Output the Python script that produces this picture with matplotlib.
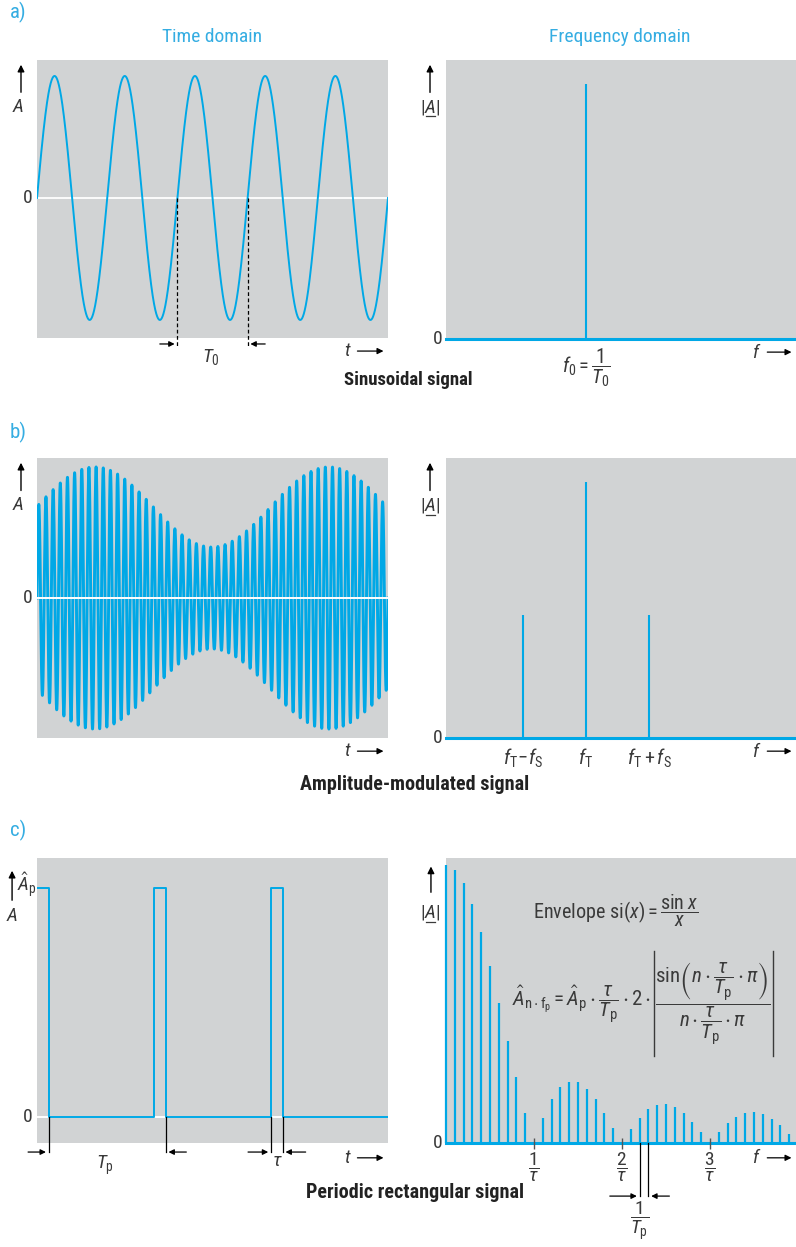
import numpy as np
import matplotlib
matplotlib.use('Agg')
import matplotlib.pyplot as plt
from matplotlib import font_manager
from matplotlib.lines import Line2D

avail = {f.name for f in font_manager.fontManager.ttflist}
FONT = 'DejaVu Sans'
for cand in ['Liberation Sans Narrow', 'Roboto Condensed', 'Roboto', 'Liberation Sans']:
    if cand in avail:
        FONT = cand
        break
plt.rcParams['font.family'] = [FONT, 'DejaVu Sans']
plt.rcParams['mathtext.fontset'] = 'custom'
plt.rcParams['mathtext.rm'] = FONT
plt.rcParams['mathtext.it'] = FONT + ':italic'
plt.rcParams['mathtext.bf'] = FONT + ':bold'
plt.rcParams['mathtext.sf'] = FONT
plt.rcParams['mathtext.fallback'] = 'stixsans'

# ---------------- data ----------------
# a) sinusoidal signal
sine_periods = 5
sine_amp = 1.0
T0_marks = [2, 3]
a_spec_freq = [1.0]
a_spec_amp = [1.0]

# b) amplitude-modulated signal
am_carrier_cycles = 49
am_mod_cycles = 1.5
am_mod_depth = 0.44
am_mod_peak = 0.165
b_spec_freq = [0.55, 1.0, 1.45]
b_spec_amp = [0.48, 1.0, 0.48]
b_spec_labels = [r'$f_\mathrm{T}\!-\!f_\mathrm{S}$', r'$f_\mathrm{T}$', r'$f_\mathrm{T}+f_\mathrm{S}$']

# c) periodic rectangular signal
Tp = 1.0
tau = 0.1
Ap = 1.0
rect_periods = 3
rect_harm_n = list(range(40))
rect_harm_amp = [1.000, 0.982, 0.934, 0.858, 0.759, 0.636, 0.505, 0.368, 0.236, 0.109,
                 0.000, 0.089, 0.158, 0.202, 0.221, 0.218, 0.194, 0.158, 0.109, 0.055,
                 0.000, 0.049, 0.091, 0.124, 0.138, 0.142, 0.129, 0.109, 0.077, 0.039,
                 0.000, 0.040, 0.071, 0.094, 0.109, 0.113, 0.106, 0.088, 0.064, 0.032]
c_tick_pos = [1, 2, 3]
c_tick_labels = [r'$\dfrac{1}{\tau}$', r'$\dfrac{2}{\tau}$', r'$\dfrac{3}{\tau}$']

# ---------------- style ----------------
GRAY = '#d1d3d4'
CYAN = '#00a8e6'
CTXT = '#35ade2'
DARK = '#3a3a3a'

W, H = 796, 1247
fig = plt.figure(figsize=(W / 100, H / 100), dpi=100)


def add_ax(x0, y0, x1, y1):
    ax = fig.add_axes([x0 / W, 1 - y1 / H, (x1 - x0) / W, (y1 - y0) / H])
    ax.set_facecolor(GRAY)
    for s in ax.spines.values():
        s.set_visible(False)
    ax.set_xticks([])
    ax.set_yticks([])
    return ax


def ft(x, y, s, **kw):
    fig.text(x / W, 1 - y / H, s, **kw)


def yaxis_arrow(ax, xf, y0f, y1f):
    ax.annotate('', xy=(xf, y1f), xytext=(xf, y0f), xycoords='axes fraction',
                arrowprops=dict(arrowstyle='-|>', color='black', lw=1.0, mutation_scale=10),
                annotation_clip=False)


def xaxis_label(ax, letter, xf_text, xf0, xf1, yf):
    ax.text(xf_text, yf, letter, transform=ax.transAxes, ha='center', va='center',
            fontsize=14, color=DARK)
    ax.annotate('', xy=(xf1, yf), xytext=(xf0, yf), xycoords='axes fraction',
                arrowprops=dict(arrowstyle='-|>', color='black', lw=0.9, mutation_scale=9),
                annotation_clip=False)


def absA_label(ax, xf, yf):
    ax.text(xf, yf, r'$|A|$', transform=ax.transAxes, ha='center', va='center',
            fontsize=14, color=DARK)
    ax.add_line(Line2D([xf - 0.011, xf + 0.013], [yf - 0.033, yf - 0.033], transform=ax.transAxes,
                       color=DARK, lw=0.9, clip_on=False))


def vbar(ax, xf, y0f, y1f):
    ax.add_line(Line2D([xf, xf], [y0f, y1f], transform=ax.transAxes, color=DARK, lw=1.0, clip_on=False))


arrow_kw = dict(arrowstyle='-|>', color='black', lw=0.9, mutation_scale=8)

# ---------------- headers ----------------
ft(10, 12, 'a)', fontsize=15, color=CTXT, ha='left', va='center')
ft(212, 37, 'Time domain', fontsize=14, color=CTXT, ha='center', va='center')
ft(620, 37, 'Frequency domain', fontsize=14, color=CTXT, ha='center', va='center')
ft(10, 432, 'b)', fontsize=15, color=CTXT, ha='left', va='center')
ft(10, 830, 'c)', fontsize=15, color=CTXT, ha='left', va='center')
ft(408, 380, 'Sinusoidal signal', fontsize=13.5, weight='bold', color='#222222', ha='center', va='center')
ft(415, 785, 'Amplitude-modulated signal', fontsize=14.5, weight='bold', color='#222222', ha='center', va='center')
ft(415, 1192, 'Periodic rectangular signal', fontsize=14.5, weight='bold', color='#222222', ha='center', va='center')

# ================= a) left =================
ax = add_ax(37, 60, 388, 338)
t = np.linspace(0, sine_periods, 3000)
ax.axhline(0, color='white', lw=1.3, zorder=1)
ax.plot(t, sine_amp * np.sin(2 * np.pi * t), color=CYAN, lw=1.4, zorder=3)
ax.set_xlim(0, sine_periods)
ax.set_ylim(-1.148, 1.131)
for tm in T0_marks:
    ax.plot([tm, tm], [0, -1.21], color='black', lw=0.9, ls=(0, (3, 2)), clip_on=False, zorder=4)
ax.annotate('', xy=(T0_marks[0], -1.197), xytext=(T0_marks[0] - 0.29, -1.197),
            arrowprops=arrow_kw, annotation_clip=False)
ax.annotate('', xy=(T0_marks[1], -1.197), xytext=(T0_marks[1] + 0.29, -1.197),
            arrowprops=arrow_kw, annotation_clip=False)
ax.text(np.mean(T0_marks) - 0.02, -1.30, r'$T_0$', ha='center', va='center', fontsize=14, color=DARK)
yaxis_arrow(ax, -0.0456, 0.874, 0.993)
ax.text(-0.055, 0.831, r'$A$', transform=ax.transAxes, ha='center', va='center', fontsize=14, color=DARK)
ax.text(-0.014, 0.0, '0', transform=ax.get_yaxis_transform(),
        ha='right', va='center', fontsize=14, color=DARK)
xaxis_label(ax, r'$t$', 0.885, 0.905, 0.995, -0.047)

# ================= a) right =================
ax = add_ax(446, 60, 796, 339)
ax.set_xlim(0, 2.5)
ax.set_ylim(0, 279 / 255)
ax.vlines(a_spec_freq, 0, a_spec_amp, color=CYAN, lw=1.5)
ax.axhline(0, color=CYAN, lw=2.2, clip_on=False)
ax.text(a_spec_freq[0], -0.03, r'$f_0 = \dfrac{1}{T_0}$', ha='center', va='top', fontsize=14.5, color=DARK)
yaxis_arrow(ax, -0.0457, 0.874, 0.993)
absA_label(ax, -0.045, 0.831)
ax.text(-0.011, 0.0, '0', transform=ax.get_yaxis_transform(), ha='right', va='center', fontsize=14, color=DARK)
xaxis_label(ax, r'$f$', 0.888, 0.91, 0.995, -0.047)

# ================= b) left =================
ax = add_ax(37, 458, 388, 738)
t = np.linspace(0, 1, 8000)
env = 1 + am_mod_depth * np.cos(2 * np.pi * am_mod_cycles * (t - am_mod_peak))
ax.plot(t, env * np.sin(2 * np.pi * am_carrier_cycles * t), color=CYAN, lw=2.1, zorder=2)
ax.axhline(0, color='white', lw=1.4, zorder=3)
ax.set_xlim(0, 1)
ax.set_ylim(-1.538, 1.538)
yaxis_arrow(ax, -0.0456, 0.874, 0.993)
ax.text(-0.055, 0.831, r'$A$', transform=ax.transAxes, ha='center', va='center', fontsize=14, color=DARK)
ax.text(-0.014, 0.0, '0', transform=ax.get_yaxis_transform(), ha='right', va='center', fontsize=14, color=DARK)
xaxis_label(ax, r'$t$', 0.885, 0.905, 0.995, -0.047)

# ================= b) right =================
ax = add_ax(446, 458, 796, 738)
ax.set_xlim(0, 2.5)
ax.set_ylim(0, 279 / 255)
ax.vlines(b_spec_freq, 0, b_spec_amp, color=CYAN, lw=1.5)
ax.axhline(0, color=CYAN, lw=2.2, clip_on=False)
for fx_, lab in zip(b_spec_freq, b_spec_labels):
    ax.text(fx_, -0.035, lab, ha='center', va='top', fontsize=14.5, color=DARK)
yaxis_arrow(ax, -0.0457, 0.874, 0.993)
absA_label(ax, -0.045, 0.831)
ax.text(-0.011, 0.0, '0', transform=ax.get_yaxis_transform(), ha='right', va='center', fontsize=14, color=DARK)
xaxis_label(ax, r'$f$', 0.888, 0.91, 0.995, -0.047)

# ================= c) left =================
ax = add_ax(37, 858, 388, 1143)
xs, ys = [0.0], [Ap]
for k in range(rect_periods):
    start = k * Tp
    if k > 0:
        xs += [start, start]
        ys += [0.0, Ap]
    xs += [start + tau, start + tau]
    ys += [Ap, 0.0]
xs.append(rect_periods * Tp)
ys.append(0.0)
ax.axhline(0, color='white', lw=1.4, zorder=1)
ax.plot(xs, ys, color=CYAN, lw=1.4, zorder=3)
ax.set_xlim(0, rect_periods * Tp)
ax.set_ylim(-0.1135, 1.131)
ya = -0.153
for xe in [tau, Tp + tau, 2 * Tp, 2 * Tp + tau]:
    ax.plot([xe, xe], [0, ya], color='black', lw=0.9, clip_on=False, zorder=4)
ax.annotate('', xy=(tau, ya), xytext=(tau - 0.2, ya), arrowprops=arrow_kw, annotation_clip=False)
ax.annotate('', xy=(Tp + tau, ya), xytext=(Tp + tau + 0.2, ya), arrowprops=arrow_kw, annotation_clip=False)
ax.annotate('', xy=(2 * Tp, ya), xytext=(2 * Tp - 0.22, ya), arrowprops=arrow_kw, annotation_clip=False)
ax.annotate('', xy=(2 * Tp + tau, ya), xytext=(2 * Tp + tau + 0.22, ya), arrowprops=arrow_kw, annotation_clip=False)
ax.text(0.58, -0.21, r'$T_\mathrm{p}$', ha='center', va='center', fontsize=14, color=DARK)
ax.text(2 * Tp + tau / 2, -0.19, r'$\tau$', ha='center', va='center', fontsize=14, color=DARK)
yaxis_arrow(ax, -0.071, 0.842, 0.965)
ax.text(-0.058, 0.905, r'$\hat{A}_\mathrm{p}$', transform=ax.transAxes, ha='left', va='center', fontsize=14, color=DARK)
ax.text(-0.072, 0.795, r'$A$', transform=ax.transAxes, ha='center', va='center', fontsize=14, color=DARK)
ax.text(-0.014, 0.0, '0', transform=ax.get_yaxis_transform(), ha='right', va='center', fontsize=14, color=DARK)
xaxis_label(ax, r'$t$', 0.885, 0.905, 0.995, -0.052)

# ================= c) right =================
ax = add_ax(446, 858, 796, 1143)
fscale = tau / Tp  # frequency axis in units of 1/tau
hx = [n * fscale for n in rect_harm_n]
ax.set_xlim(0, 350 / 88)
ax.set_ylim(0, 284 / 277)
ax.vlines(hx, 0, rect_harm_amp, color=CYAN, lw=1.6, clip_on=False, zorder=3)
ax.axhline(0, color=CYAN, lw=2.2, clip_on=False, zorder=3)
ax.vlines(c_tick_pos, -0.022, 0.018, color='#555555', lw=1.0, clip_on=False, zorder=4)
for p, lab in zip(c_tick_pos, c_tick_labels):
    ax.text(p, -0.03, lab, ha='center', va='top', fontsize=14, color=DARK)
yb = -0.191
for n in [22, 23]:
    ax.plot([n * fscale, n * fscale], [0, yb], color='black', lw=0.9, clip_on=False, zorder=4)
ax.annotate('', xy=(22 * fscale, yb), xytext=(22 * fscale - 0.37, yb), arrowprops=arrow_kw, annotation_clip=False)
ax.annotate('', xy=(23 * fscale, yb), xytext=(23 * fscale + 0.27, yb), arrowprops=arrow_kw, annotation_clip=False)
ax.text(22.5 * fscale - 0.05, -0.205, r'$\dfrac{1}{T_\mathrm{p}}$', ha='center', va='top', fontsize=14, color=DARK)
ax.text(0.486, 0.815, r'Envelope si$(x) = \dfrac{\mathrm{sin}\;x}{x}$', transform=ax.transAxes,
        ha='center', va='center', fontsize=14.5, color=DARK)
ax.text(0.585, 0.483,
        r'$\hat{A}_{\mathrm{n\cdot f_p}} = \hat{A}_\mathrm{p}\cdot\dfrac{\tau}{T_\mathrm{p}}\cdot 2\cdot$',
        transform=ax.transAxes, ha='right', va='center', fontsize=15, color=DARK)
ax.text(0.762, 0.488,
        r'$\dfrac{\mathrm{sin}\left(n\cdot\dfrac{\tau}{T_\mathrm{p}}\cdot\pi\right)}{n\cdot\dfrac{\tau}{T_\mathrm{p}}\cdot\pi}$',
        transform=ax.transAxes, ha='center', va='center', fontsize=15, color=DARK)
vbar(ax, 0.593, 0.305, 0.674)
vbar(ax, 0.934, 0.305, 0.674)
yaxis_arrow(ax, -0.043, 0.87, 0.98)
absA_label(ax, -0.045, 0.81)
ax.text(-0.011, 0.0, '0', transform=ax.get_yaxis_transform(), ha='right', va='center', fontsize=14, color=DARK)
xaxis_label(ax, r'$f$', 0.888, 0.91, 0.995, -0.052)

fig.savefig('out.png', dpi=100)
